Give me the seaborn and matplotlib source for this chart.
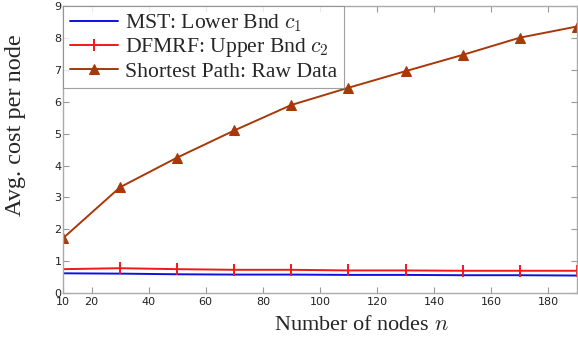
import matplotlib
matplotlib.use("Agg")
import matplotlib.pyplot as plt
import seaborn as sns
import pandas as pd

nodes = [10, 30, 50, 70, 90, 110, 130, 150, 170, 190]
mst_lower = [0.62, 0.61, 0.59, 0.58, 0.58, 0.57, 0.57, 0.56, 0.56, 0.55]
dfmrf_upper = [0.75, 0.78, 0.75, 0.73, 0.73, 0.71, 0.71, 0.70, 0.70, 0.70]
shortest_path = [1.72, 3.32, 4.25, 5.10, 5.90, 6.44, 6.96, 7.47, 8.01, 8.36]

labels = ["MST: Lower Bnd $c_1$", "DFMRF: Upper Bnd $c_2$", "Shortest Path: Raw Data"]
x_ticks = [10, 20, 40, 60, 80, 100, 120, 140, 160, 180]
y_ticks = [0, 1, 2, 3, 4, 5, 6, 7, 8, 9]

sns.set_style("white")
plt.rcParams["mathtext.fontset"] = "cm"
plt.rcParams["font.family"] = ["DejaVu Sans"]

fig = plt.figure(figsize=(5.78, 3.4), dpi=100)
ax = fig.add_axes([0.109, 0.138, 0.889, 0.844])

df = pd.DataFrame({"n": nodes, "mst": mst_lower, "dfmrf": dfmrf_upper, "sp": shortest_path})

sns.lineplot(data=df, x="n", y="mst", ax=ax, color="#1010e0", lw=1.4, label=labels[0])
sns.lineplot(data=df, x="n", y="dfmrf", ax=ax, color="#f01818", lw=1.4, marker="|",
             markersize=9, markeredgewidth=1.4, markeredgecolor="#f01818", label=labels[1])
sns.lineplot(data=df, x="n", y="sp", ax=ax, color="#a83808", lw=1.4, marker="^",
             markersize=7, markeredgecolor="#a83808", label=labels[2])

ax.set_xlim(10, 190)
ax.set_ylim(0, 9)
ax.set_xticks(x_ticks)
ax.set_yticks(y_ticks)
ax.tick_params(direction="in", length=4, width=0.8, color="#999999",
               labelsize=8, labelcolor="#222222", top=True, right=True,
               bottom=True, left=True, pad=3)
ax.tick_params(axis="y", pad=1)
for s in ax.spines.values():
    s.set_color("#aaaaaa")
    s.set_linewidth(1.0)

serif = ["Liberation Serif", "DejaVu Serif"]
ax.set_xlabel("Number of nodes $n$", fontsize=16, family=serif)
ax.set_ylabel("Avg. cost per node", fontsize=17.5, family=serif)
ax.xaxis.set_label_coords(0.58, -0.08)
ax.yaxis.set_label_coords(-0.072, 0.585)

leg = ax.legend(loc="upper left", prop={"family": serif, "size": 15.6},
                frameon=True, fancybox=False, borderaxespad=0, handlelength=2.25,
                handletextpad=0.33, borderpad=0.3, labelspacing=0.1)
leg.get_frame().set_edgecolor("#888888")
leg.get_frame().set_linewidth(0.8)

fig.savefig("out.png", dpi=100)
